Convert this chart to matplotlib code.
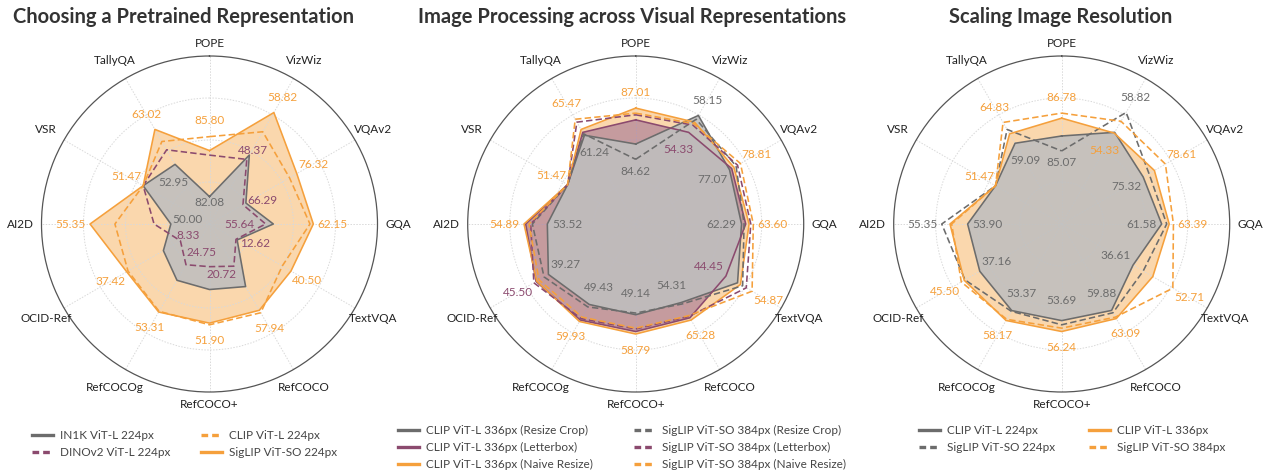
import matplotlib

matplotlib.use("Agg")
import matplotlib.pyplot as plt
import numpy as np
from matplotlib.lines import Line2D

plt.rcParams["font.family"] = ["Lato", "DejaVu Sans"]

# axes go clockwise from the top
AXES = ["POPE", "VizWiz", "VQAv2", "GQA", "TextVQA", "RefCOCO", "RefCOCO+",
        "RefCOCOg", "OCID-Ref", "AI2D", "VSR", "TallyQA"]

# radial scores (normalised per benchmark, 0 = centre, 1 = outer ring)
# --- panel 1: choosing a pretrained representation
P1_NAMES = ["IN1K ViT-L 224px", "DINOv2 ViT-L 224px", "CLIP ViT-L 224px", "SigLIP ViT-SO 224px"]
P1_IN1K = [0.163, 0.474, 0.25, 0.38, 0.19, 0.43, 0.39, 0.387, 0.317, 0.23, 0.456, 0.41]
P1_DINO = [0.41, 0.444, 0.23, 0.334, 0.182, 0.29, 0.254, 0.28, 0.20, 0.33, 0.456, 0.51]
P1_CLIP = [0.52, 0.634, 0.55, 0.598, 0.50, 0.61, 0.60, 0.60, 0.56, 0.563, 0.456, 0.567]
P1_SIGLIP = [0.437, 0.766, 0.60, 0.618, 0.56, 0.593, 0.59, 0.605, 0.569, 0.711, 0.456, 0.65]
P1_MAX = [85.80, 58.82, 76.32, 62.15, 40.50, 57.94, 51.90, 53.31, 37.42, 55.35, 51.47, 63.02]
P1_MIN = [82.08, 48.37, 66.29, 55.64, 12.62, 20.72, None, 24.75, 8.33, 50.00, None, 52.95]

# --- panel 2: image processing
P2_NAMES = ["CLIP ViT-L 336px (Resize Crop)", "CLIP ViT-L 336px (Letterbox)",
            "CLIP ViT-L 336px (Naive Resize)", "SigLIP ViT-SO 384px (Resize Crop)",
            "SigLIP ViT-SO 384px (Letterbox)", "SigLIP ViT-SO 384px (Naive Resize)"]
P2_CLIP_CROP = [0.476, 0.746, 0.645, 0.63, 0.70, 0.54, 0.54, 0.553, 0.60, 0.526, 0.468, 0.61]
P2_CLIP_LBOX = [0.62, 0.63, 0.66, 0.655, 0.62, 0.645, 0.64, 0.66, 0.685, 0.655, 0.468, 0.63]
P2_CLIP_NAIVE = [0.69, 0.70, 0.675, 0.675, 0.72, 0.66, 0.655, 0.67, 0.68, 0.665, 0.468, 0.65]
P2_SIG_CROP = [0.385, 0.72, 0.69, 0.645, 0.735, 0.55, 0.53, 0.57, 0.63, 0.615, 0.468, 0.62]
P2_SIG_LBOX = [0.65, 0.68, 0.70, 0.685, 0.76, 0.635, 0.625, 0.65, 0.70, 0.625, 0.468, 0.70]
P2_SIG_NAIVE = [0.66, 0.69, 0.72, 0.70, 0.80, 0.63, 0.62, 0.64, 0.665, 0.635, 0.468, 0.72]
P2_MAX = [87.01, 58.15, 78.81, 63.60, 54.87, 65.28, 58.79, 59.93, 45.50, 54.89, 51.47, 65.47]
P2_MIN = [84.62, 54.33, 77.07, 62.29, 44.45, 54.31, 49.14, 49.43, 39.27, 53.52, None, 61.24]

# --- panel 3: image resolution
P3_NAMES = ["CLIP ViT-L 224px", "SigLIP ViT-SO 224px", "CLIP ViT-L 336px", "SigLIP ViT-SO 384px"]
P3_CLIP_224 = [0.524, 0.63, 0.56, 0.595, 0.49, 0.594, 0.575, 0.595, 0.563, 0.56, 0.455, 0.555]
P3_SIG_224 = [0.435, 0.767, 0.60, 0.625, 0.56, 0.61, 0.60, 0.60, 0.665, 0.714, 0.455, 0.65]
P3_CLIP_336 = [0.63, 0.625, 0.637, 0.64, 0.626, 0.65, 0.64, 0.663, 0.67, 0.665, 0.455, 0.62]
P3_SIG_384 = [0.66, 0.706, 0.713, 0.665, 0.764, 0.64, 0.62, 0.655, 0.69, 0.655, 0.455, 0.698]
P3_MAX = [86.78, 58.82, 78.61, 63.39, 52.71, 63.09, 56.24, 58.17, 45.50, 55.35, 51.47, 64.83]
P3_MIN = [85.07, 54.33, 75.32, 61.58, 36.61, 59.88, 53.69, 53.37, 37.16, 53.90, None, 59.09]

TITLES = ["Choosing a Pretrained Representation",
          "Image Processing across Visual Representations",
          "Scaling Image Resolution"]

ORANGE = "#f5a03c"
PURPLE = "#8b4a6e"
GRAY = "#6c6c6c"
FILL = {ORANGE: ("#f5a03c", 0.42), PURPLE: ("#9a6a92", 0.55), GRAY: ("#bfbfbf", 0.88)}

# (color, linestyle, filled)
STYLE_1 = [(GRAY, "-", True), (PURPLE, "--", False), (ORANGE, "--", False), (ORANGE, "-", True)]
STYLE_2 = [(GRAY, "-", True), (PURPLE, "-", True), (ORANGE, "-", True),
           (GRAY, "--", False), (PURPLE, "--", False), (ORANGE, "--", False)]
STYLE_3 = [(GRAY, "-", True), (GRAY, "--", False), (ORANGE, "-", True), (ORANGE, "--", False)]

# hand-placed min labels in panel 1 (angle deg clockwise from top, radius)
P1_MIN_POS = {0: (0, 0.125), 1: (30.5, 0.506), 2: (66, 0.346), 3: (90, 0.18),
              4: (113, 0.295), 5: (167, 0.31), 7: (196.5, 0.178), 8: (241, 0.144),
              9: (282, 0.133), 11: (319, 0.33)}

W, H = 1268, 473
CX = [209.5, 635.7, 1061.7]
CY, R = 224, 168


def radar(ax, series, styles, max_vals, min_vals, min_pos=None):
    theta = np.deg2rad(np.arange(len(AXES)) * 30)
    ax.set_theta_zero_location("N")
    ax.set_theta_direction(-1)
    ax.set_ylim(0, 1)
    ax.set_xticks(theta)
    ax.set_xticklabels([])
    ax.set_yticks([0.25, 0.5, 0.75])
    ax.set_yticklabels([])
    ax.grid(True, color="#d9d9d9", ls=(0, (1.5, 1.5)), lw=0.7)
    ax.spines["polar"].set_color("#555555")
    ax.spines["polar"].set_linewidth(0.9)

    t_closed = np.append(theta, theta[0])
    # fills first: orange, purple, then gray on top
    order = {ORANGE: 0, PURPLE: 1, GRAY: 2}
    for vals, (color, ls, filled) in sorted(zip(series, styles), key=lambda s: order[s[1][0]]):
        if filled:
            fc, a = FILL[color]
            ax.fill(t_closed, np.append(vals, vals[0]), color=fc, alpha=a, lw=0,
                    zorder=1 + order[color])
    for vals, (color, ls, filled) in zip(series, styles):
        ax.plot(t_closed, np.append(vals, vals[0]), color=color,
                ls=(0, (4, 2)) if ls == "--" else "-", lw=1.15, zorder=5)

    arr = np.array(series)
    for i, name in enumerate(AXES):
        rr = 1.075 if name in ("POPE", "RefCOCO+") else 1.125
        ax.text(theta[i], rr, name, ha="center", va="center", fontsize=8.5,
                color="#222222")
        col = arr[:, i]
        # max label: ties go to the last series
        jmax = len(col) - 1 - int(np.argmax(col[::-1]))
        off = 0.095 + 0.02 * abs(np.sin(theta[i]))
        ax.text(theta[i], col[jmax] + off, f"{max_vals[i]:.2f}", ha="center",
                va="center", fontsize=8.5, color=styles[jmax][0], zorder=8)
        if min_vals[i] is not None:
            jmin = int(np.argmin(col))
            if min_pos is not None:
                ang, rr = min_pos[i]
                th = np.deg2rad(ang)
            else:
                th = theta[i]
                rr = col[jmin] - (0.07 if i == 0 else 0.118)
            ax.text(th, rr, f"{min_vals[i]:.2f}", ha="center", va="center",
                    fontsize=8.5, color=styles[jmin][0], zorder=8)


def handles(styles, names):
    out = []
    for (color, ls, _), name in zip(styles, names):
        out.append(Line2D([], [], color=color, lw=2.4,
                          ls=(0, (2, 1.2)) if ls == "--" else "-", label=name))
    return out


fig = plt.figure(figsize=(W / 100, H / 100), dpi=100)

panels = [
    ([P1_IN1K, P1_DINO, P1_CLIP, P1_SIGLIP], STYLE_1, P1_MAX, P1_MIN, P1_MIN_POS, P1_NAMES),
    ([P2_CLIP_CROP, P2_CLIP_LBOX, P2_CLIP_NAIVE, P2_SIG_CROP, P2_SIG_LBOX, P2_SIG_NAIVE],
     STYLE_2, P2_MAX, P2_MIN, None, P2_NAMES),
    ([P3_CLIP_224, P3_SIG_224, P3_CLIP_336, P3_SIG_384], STYLE_3, P3_MAX, P3_MIN, None, P3_NAMES),
]

for k, (series, styles, mx, mn, mpos, names) in enumerate(panels):
    ax = fig.add_axes([(CX[k] - R) / W, (H - CY - R) / H, 2 * R / W, 2 * R / H],
                      projection="polar")
    radar(ax, series, styles, mx, mn, mpos)

for x, title in zip([183.5, 632, 1061], TITLES):
    fig.text(x / W, 1 - 17 / H, title, ha="center", va="center", fontsize=14.5,
             fontweight="bold", color="#333333")

# legends, one per column
leg_cols = [
    (handles(STYLE_1[:2], P1_NAMES[:2]), 32, 430),
    (handles(STYLE_1[2:], P1_NAMES[2:]), 201, 430),
    (handles(STYLE_2[:3], P2_NAMES[:3]), 398, 425),
    (handles(STYLE_2[3:], P2_NAMES[3:]), 634, 425),
    (handles(STYLE_3[:2], P3_NAMES[:2]), 919, 425),
    (handles(STYLE_3[2:], P3_NAMES[2:]), 1089, 425),
]
for hs, x, y in leg_cols:
    fig.legend(handles=hs, loc="upper left", bbox_to_anchor=(x / W, 1 - y / H),
               frameon=False, fontsize=8.5, handlelength=1.8, handletextpad=0.6,
               labelspacing=0.5, borderpad=0, borderaxespad=0, labelcolor="#444444")

fig.savefig("out.png", dpi=100)
